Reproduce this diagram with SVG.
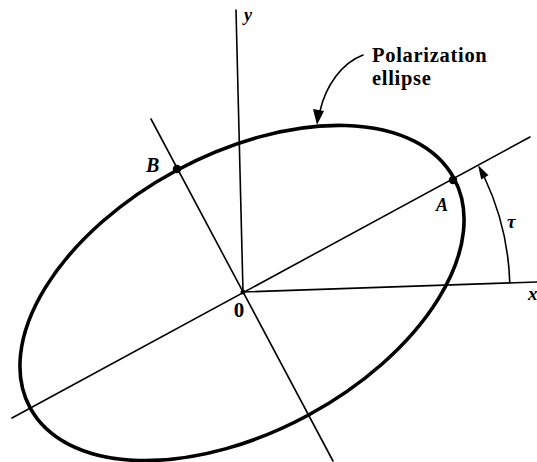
<svg xmlns="http://www.w3.org/2000/svg" width="537" height="462" viewBox="0 0 537 462">
<style>
.ax{stroke:#000;stroke-width:1.6;fill:none;stroke-linecap:round}
.el{stroke:#000;stroke-width:3.6;fill:none}
.lbl{font-family:"Liberation Serif","Times New Roman",serif;font-weight:bold;font-style:italic;fill:#000}
.txt{font-family:"Liberation Serif","Times New Roman",serif;font-weight:bold;fill:#000}
.cap{font-size:20.5px;letter-spacing:0.7px}
</style>
<rect width="537" height="462" fill="#fff"/>
<g id="connectors">
<line class="ax" x1="236" y1="10" x2="243" y2="292"/>
<line class="ax" x1="243" y1="292" x2="537" y2="282"/>
<line class="ax" x1="12" y1="418" x2="530" y2="137"/>
<line class="ax" x1="151" y1="119" x2="333" y2="461"/>
<path class="ax" d="M509.8,282.9 A267,267 0 0 0 484.5,177.5"/>
<polygon points="478,165 488.4,175.3 481.2,179.4"/>
<path class="ax" d="M363,55 C342,63 326,85 320,111"/>
<polygon points="317,125 313,109 324,111"/>
</g>
<g id="ellipse">
<ellipse class="el" cx="242" cy="293" rx="241" ry="139" transform="rotate(-28.4 242 293)"/>
</g>
<g id="pointA"><circle cx="453" cy="180" r="4.2"/><text class="lbl" x="436" y="211" font-size="18">A</text></g>
<g id="pointB"><circle cx="177" cy="169" r="4.2"/><text class="lbl" x="146" y="172" font-size="20">B</text></g>
<g id="origin"><circle cx="243" cy="292" r="2.5"/><text class="txt" x="239" y="317" font-size="21" text-anchor="middle">0</text></g>
<g id="label-y"><text class="lbl" x="244" y="21" font-size="18">y</text></g>
<g id="label-x"><text class="lbl" x="528" y="300" font-size="19">x</text></g>
<g id="label-tau"><text class="lbl" x="507" y="228" font-size="19">τ</text></g>
<g id="caption"><text class="txt cap" x="372" y="62">Polarization</text><text class="txt cap" x="372" y="85">ellipse</text></g>
</svg>
